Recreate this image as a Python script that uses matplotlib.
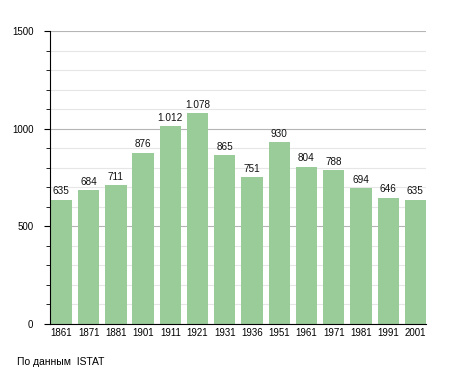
import matplotlib.pyplot as plt
import numpy as np
from matplotlib.ticker import MultipleLocator

plt.rcParams['font.family'] = ['Liberation Sans', 'DejaVu Sans']

YEARS = ["1861", "1871", "1881", "1901", "1911", "1921", "1931", "1936",
         "1951", "1961", "1971", "1981", "1991", "2001"]
POP = [635, 684, 711, 876, 1012, 1078, 865, 751, 930, 804, 788, 694, 646, 635]
SOURCE = "По данным  ISTAT"

BAR = "#99cc99"
W = 0.78


def fmt(v):
    return f"{v:,}".replace(",", ".")


fig = plt.figure(figsize=(4.55, 3.73), dpi=100, facecolor="white")
ax = fig.add_axes([50 / 455, 49 / 373, 376 / 455, 293 / 373])

x = np.arange(len(YEARS))
ax.bar(x, POP, width=W, color=BAR, zorder=3)
for xi, v in zip(x, POP):
    ax.text(xi, v + 18, fmt(v), ha="center", va="bottom", fontsize=7.2, color="#111111")

ax.set_xlim(-W / 2 - 0.03, len(YEARS) - 1 + W / 2)
ax.set_ylim(0, 1500)
ax.yaxis.set_major_locator(MultipleLocator(500))
ax.yaxis.set_minor_locator(MultipleLocator(100))
ax.grid(axis="y", which="major", color="#b5b5b5", lw=0.8, zorder=0)
ax.grid(axis="y", which="minor", color="#e6e6e6", lw=0.8, zorder=0)
ax.set_axisbelow(True)

for s in ("top", "right"):
    ax.spines[s].set_visible(False)
ax.spines["left"].set_color("black")
ax.spines["bottom"].set_color("black")
ax.spines["left"].set_zorder(4)
ax.spines["bottom"].set_zorder(4)

ax.set_xticks(x)
ax.set_xticklabels(YEARS)
ax.tick_params(axis="x", length=0, pad=3, labelsize=7)
ax.tick_params(axis="y", which="major", length=4, labelsize=7, pad=8)
ax.tick_params(axis="y", which="minor", length=3)

fig.text(17 / 455, 1 - 362 / 373, SOURCE, fontsize=7.5, va="center", ha="left")

fig.savefig("out.png", dpi=100)
